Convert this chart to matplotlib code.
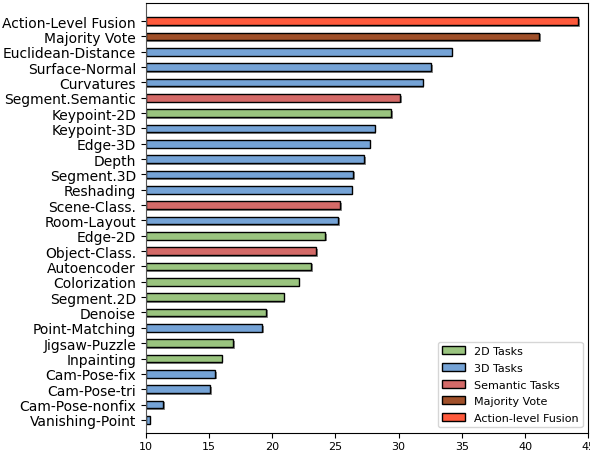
import matplotlib
matplotlib.use("Agg")
import matplotlib.pyplot as plt
import matplotlib.patheffects as pe
from matplotlib.patches import Patch

# top to bottom as in the chart
tasks = ["Action-Level Fusion", "Majority Vote", "Euclidean-Distance", "Surface-Normal",
         "Curvatures", "Segment.Semantic", "Keypoint-2D", "Keypoint-3D", "Edge-3D",
         "Depth", "Segment.3D", "Reshading", "Scene-Class.", "Room-Layout", "Edge-2D",
         "Object-Class.", "Autoencoder", "Colorization", "Segment.2D", "Denoise",
         "Point-Matching", "Jigsaw-Puzzle", "Inpainting", "Cam-Pose-fix", "Cam-Pose-tri",
         "Cam-Pose-nonfix", "Vanishing-Point"]
scores = [44.2, 41.1, 34.2, 32.6, 31.9, 30.1, 29.4, 28.1, 27.7, 27.3, 26.4, 26.3, 25.4,
          25.2, 24.2, 23.5, 23.1, 22.1, 20.9, 19.5, 19.2, 16.9, 16.0, 15.5, 15.1, 11.4, 10.3]
groups = ["fusion", "vote", "3d", "3d", "3d", "sem", "2d", "3d", "3d", "3d", "3d", "3d",
          "sem", "3d", "2d", "sem", "2d", "2d", "2d", "2d", "3d", "2d", "2d", "3d", "3d",
          "3d", "3d"]

group_colors = {"2d": "#9ac47f", "3d": "#75a3d6", "sem": "#d46a68",
                "vote": "#a0502a", "fusion": "#ff5a3c"}
legend_names = [("2d", "2D Tasks"), ("3d", "3D Tasks"), ("sem", "Semantic Tasks"),
                ("vote", "Majority Vote"), ("fusion", "Action-level Fusion")]

fig = plt.figure(figsize=(5.9, 4.52), dpi=100)
ax = fig.add_axes([0.247, 0.040, 0.75, 0.951])

n = len(tasks)
ypos = [n - 1 - i for i in range(n)]
colors = [group_colors[g] for g in groups]

bars = ax.barh(ypos, [s - 10 for s in scores], left=10, height=0.5, color=colors,
               edgecolor="black", linewidth=1.0)
for b in bars:
    b.set_path_effects([pe.SimplePatchShadow(offset=(1.2, -1.2), shadow_rgbFace="gray", alpha=0.9),
                        pe.Normal()])

ax.set_yticks(ypos)
ax.set_yticklabels(tasks, fontsize=10)
ax.set_xlim(10, 45)
ax.set_ylim(-0.85, n - 1 + 1.17)
ax.set_xticks(range(10, 46, 5))
ax.tick_params(axis="x", labelsize=8, pad=2)
ax.spines["left"].set_color("#555555")

handles = [Patch(facecolor=group_colors[k], edgecolor="black", label=lab) for k, lab in legend_names]
ax.legend(handles=handles, loc="lower right", fontsize=8, labelspacing=0.6)

fig.savefig("out.png", dpi=100)
